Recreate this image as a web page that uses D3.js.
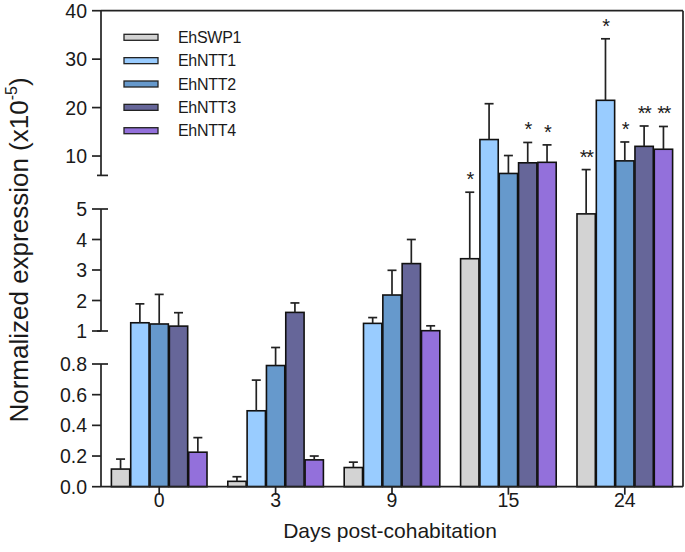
<html>
<head>
<meta charset="utf-8">
<script src="https://d3js.org/d3.v7.min.js"></script>
<style>
  body { margin: 0; background: #fff; }
  text { font-family: Arial, "Liberation Sans", sans-serif; fill: #1a1a1a; }
</style>
</head>
<body>
<svg width="685" height="552"></svg>
<script>
// data
var days = ["0", "3", "9", "15", "24"];
var genes = ["EhSWP1", "EhNTT1", "EhNTT2", "EhNTT3", "EhNTT4"];

var swp1 = [0.115, 0.035, 0.125, 3.37, 4.84];
var ntt1 = [1.27, 0.495, 1.25, 13.4, 21.5];
var ntt2 = [1.23, 0.79, 2.18, 6.4, 9.0];
var ntt3 = [1.16, 1.61, 3.21, 8.6, 12.0];
var ntt4 = [0.225, 0.175, 1.01, 8.7, 11.4];

var swp1Sd = [0.065, 0.03, 0.035, 2.13, 2.36];
var ntt1Sd = [0.62, 0.2, 0.19, 7.4, 12.7];
var ntt2Sd = [0.97, 0.11, 0.81, 3.7, 3.9];
var ntt3Sd = [0.44, 0.31, 0.79, 4.2, 4.2];
var ntt4Sd = [0.095, 0.025, 0.16, 3.6, 4.7];

var swp1Sig = ["", "", "", "*", "**"];
var ntt1Sig = ["", "", "", "", "*"];
var ntt2Sig = ["", "", "", "", "*"];
var ntt3Sig = ["", "", "", "*", "**"];
var ntt4Sig = ["", "", "", "*", "**"];

var lowTicks = [0, 0.2, 0.4, 0.6, 0.8];
var midTicks = [1, 2, 3, 4, 5];
var topTicks = [10, 20, 30, 40];

var means = [swp1, ntt1, ntt2, ntt3, ntt4];
var sds = [swp1Sd, ntt1Sd, ntt2Sd, ntt3Sd, ntt4Sd];
var sigs = [swp1Sig, ntt1Sig, ntt2Sig, ntt3Sig, ntt4Sig];
var colors = ["#d3d3d3", "#99ccff", "#6699cc", "#666699", "#9370db"];

var rows = [];
genes.forEach(function (g, gi) {
  days.forEach(function (d, di) {
    rows.push({ gene: g, day: d, mean: means[gi][di], sd: sds[gi][di], sig: sigs[gi][di] });
  });
});

var svg = d3.select("svg");
var pLeft = 101, pRight = 683, pTop = 10.7, pBottom = 486.7;

// broken axis: 0-0.8 | gap | 1-5 | gap | 6-40
var y = d3.scaleLinear()
  .domain([0, 0.8, 1, 5, 6, 40])
  .range([pBottom, 364, 331, 209, 175.4, pTop]);

var x0 = d3.scaleBand().domain(days).range([pLeft, pRight])
  .paddingInner(0.17).paddingOuter(0.085);
var x1 = d3.scaleBand().domain(genes).range([0, x0.bandwidth()]);
var color = d3.scaleOrdinal(genes, colors);

// bars
svg.append("g")
  .selectAll("rect")
  .data(rows)
  .join("rect")
  .attr("x", function (d) { return x0(d.day) + x1(d.gene) + 0.5; })
  .attr("width", x1.bandwidth() - 1)
  .attr("y", function (d) { return y(d.mean); })
  .attr("height", function (d) { return pBottom - y(d.mean); })
  .attr("fill", function (d) { return color(d.gene); })
  .attr("stroke", "#111")
  .attr("stroke-width", 1.6);

// error bars (upper only)
var err = svg.append("g").attr("stroke", "#222").attr("stroke-width", 1.7);
rows.forEach(function (d) {
  var cx = x0(d.day) + x1(d.gene) + x1.bandwidth() / 2;
  err.append("line").attr("x1", cx).attr("x2", cx)
    .attr("y1", y(d.mean)).attr("y2", y(d.mean + d.sd));
  err.append("line").attr("x1", cx - 4.5).attr("x2", cx + 4.5)
    .attr("y1", y(d.mean + d.sd)).attr("y2", y(d.mean + d.sd));
});

// significance stars
svg.append("g")
  .selectAll("text")
  .data(rows.filter(function (d) { return d.sig; }))
  .join("text")
  .attr("x", function (d) { return x0(d.day) + x1(d.gene) + x1.bandwidth() / 2; })
  .attr("y", function (d) { return y(d.mean + d.sd) - 6; })
  .attr("text-anchor", "middle")
  .attr("font-size", 20)
  .attr("letter-spacing", -1.5)
  .text(function (d) { return d.sig; });

// y axis segments
var ax = svg.append("g").attr("stroke", "#222").attr("stroke-width", 1.7);
function segment(lo, hi, ticks, fmt, capLo, capHi) {
  ax.append("line").attr("x1", pLeft).attr("x2", pLeft).attr("y1", y(lo)).attr("y2", y(hi));
  ticks.forEach(function (t) {
    ax.append("line").attr("x1", pLeft - 9).attr("x2", pLeft).attr("y1", y(t)).attr("y2", y(t));
    svg.append("text").attr("x", pLeft - 14).attr("y", y(t) + 7)
      .attr("text-anchor", "end").attr("font-size", 19.5).text(fmt(t));
  });
  if (capLo) ax.append("line").attr("x1", pLeft - 4).attr("x2", pLeft + 7).attr("y1", y(lo)).attr("y2", y(lo));
  if (capHi) ax.append("line").attr("x1", pLeft).attr("x2", pLeft + 7).attr("y1", y(hi)).attr("y2", y(hi));
}
segment(0, 0.8, lowTicks, d3.format(".1f"), false, true);
segment(1, 5, midTicks, d3.format("d"), true, true);
segment(6, 40, topTicks, d3.format("d"), true, false);

// frame top / right and x axis
ax.append("line").attr("x1", pLeft).attr("x2", pRight).attr("y1", pTop).attr("y2", pTop);
ax.append("line").attr("x1", pRight).attr("x2", pRight).attr("y1", pTop).attr("y2", pBottom);
ax.append("line").attr("x1", pLeft).attr("x2", pRight).attr("y1", pBottom).attr("y2", pBottom);

days.forEach(function (d) {
  var cx = x0(d) + x0.bandwidth() / 2;
  ax.append("line").attr("x1", cx).attr("x2", cx).attr("y1", pBottom).attr("y2", pBottom + 8);
  svg.append("text").attr("x", cx).attr("y", pBottom + 20)
    .attr("text-anchor", "middle").attr("font-size", 19.5).text(d);
});

// axis titles
svg.append("text")
  .attr("x", 390).attr("y", 538)
  .attr("text-anchor", "middle")
  .attr("font-size", 21)
  .text("Days post-cohabitation");

var yl = svg.append("text")
  .attr("transform", "translate(28,250) rotate(-90)")
  .attr("text-anchor", "middle")
  .attr("font-size", 26);
yl.append("tspan").text("Normalized expression (x10");
yl.append("tspan").attr("font-size", 16).attr("dy", -11).text("-5");
yl.append("tspan").attr("dy", 11).text(")");

// legend
var legend = svg.append("g");
genes.forEach(function (g, i) {
  var cy = 37.3 + i * 23.35;
  legend.append("rect").attr("x", 124).attr("y", cy - 3).attr("width", 34).attr("height", 6)
    .attr("fill", color(g)).attr("stroke", "#222").attr("stroke-width", 1.3);
  legend.append("text").attr("x", 178).attr("y", cy + 5.5)
    .attr("font-size", 16).attr("letter-spacing", -0.3).text(g);
});
</script>
</body>
</html>
